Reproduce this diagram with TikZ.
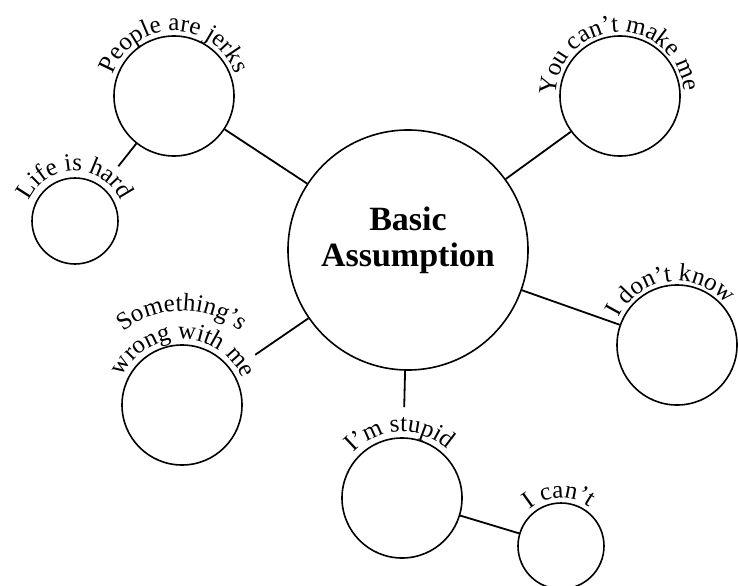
\documentclass[tikz,border=0pt]{standalone}
\usepackage{fontspec}
\setmainfont{Liberation Serif}
\usepackage{tikz}
\usetikzlibrary{decorations.text}

\newcommand{\bubblefont}{\fontsize{12.5}{14}\selectfont}
\newcommand{\centralfont}{\fontsize{17}{18}\selectfont\bfseries}
\newcommand{\arclabel}[4]{%
  \path[decorate, decoration={text along path, text align=center, text={|\bubblefont|#4}}]
    (#1) ++(#2+150:#3) arc[start angle=#2+150, end angle=#2-150, radius=#3];
}

\begin{document}
\begin{tikzpicture}[x=0.5pt,y=0.5pt,
    bubble/.style={circle, draw, line width=0.8pt, inner sep=0pt, minimum size=#1},
    link/.style={line width=0.9pt}]
  \useasboundingbox (0,0) rectangle (738,585);

  \node[bubble=120pt] (basic) at (408,335) {};
  \node[align=center, font=\centralfont] (basictext) at (408,345) {Basic\\Assumption};
  \node[bubble=60pt] (jerks)  at (174,489) {};
  \node[bubble=43pt] (hard)   at (75,364)  {};
  \node[bubble=60pt] (make)   at (620,489) {};
  \node[bubble=60pt] (know)   at (677,240) {};
  \node[bubble=60pt] (wrong)  at (182,180) {};
  \node[bubble=60pt] (stupid) at (402,87)  {};
  \node[bubble=43pt] (cant)   at (561,39)  {};

  \arclabel{jerks}{90}{65}{People are jerks}
  \arclabel{hard}{90}{50}{Life is hard}
  \arclabel{make}{92}{64}{You can't make me}
  \arclabel{know}{97}{64}{I don't know}
  \arclabel{wrong}{89}{66}{wrong with me}
  \arclabel{wrong}{90}{94}{Something's}
  \arclabel{stupid}{92}{66}{I'm stupid}
  \arclabel{cant}{92}{48}{I can't}

  \path[link]
    (basic)
      edge (jerks)
      edge (make)
      edge (know)
      edge [shorten >=14pt] (wrong)
      edge [shorten >=15pt] (stupid)
    (jerks)
      edge [shorten >=13pt] (hard)
    (stupid)
      edge (cant)
  ;
\end{tikzpicture}
\end{document}
